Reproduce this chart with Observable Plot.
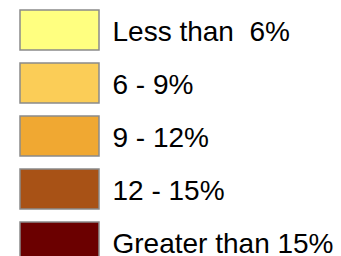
<!DOCTYPE html>
<html>
<head>
<meta charset="utf-8">
<script src="https://cdn.jsdelivr.net/npm/d3@7"></script>
<script src="https://cdn.jsdelivr.net/npm/@observablehq/plot@0.6"></script>
<style>
  html, body { margin: 0; padding: 0; background: #fff; }
  svg text { white-space: pre; }
</style>
</head>
<body>
<div id="chart"></div>
<script>
const categories = ["Less than  6%", "6 - 9%", "9 - 12%", "12 - 15%", "Greater than 15%"];
const colors = ["#FFFF80", "#FBCD57", "#F0A832", "#A85216", "#6B0000"];

const data = categories.map((c, i) => ({label: c, color: colors[i]}));

const chart = Plot.plot({
  width: 341,
  height: 256,
  margin: 0,
  x: {domain: [0, 1], range: [20, 99], axis: null},
  y: {type: "band", domain: categories, range: [10, 263], paddingInner: 0.245, paddingOuter: 0, axis: null},
  marks: [
    Plot.barX(data, {
      x1: () => 0, x2: () => 1, y: "label",
      fill: "color", stroke: "#8a8a8a", strokeWidth: 1.5
    }),
    Plot.text(data, {
      x: () => 1, y: "label", text: "label",
      dx: 13, dy: 2, textAnchor: "start",
      fontSize: 28, fill: "#000",
      fontFamily: "Liberation Sans, Arial, sans-serif"
    })
  ],
  style: {background: "#fff", overflow: "visible"}
});
document.getElementById("chart").appendChild(chart);
</script>
</body>
</html>
